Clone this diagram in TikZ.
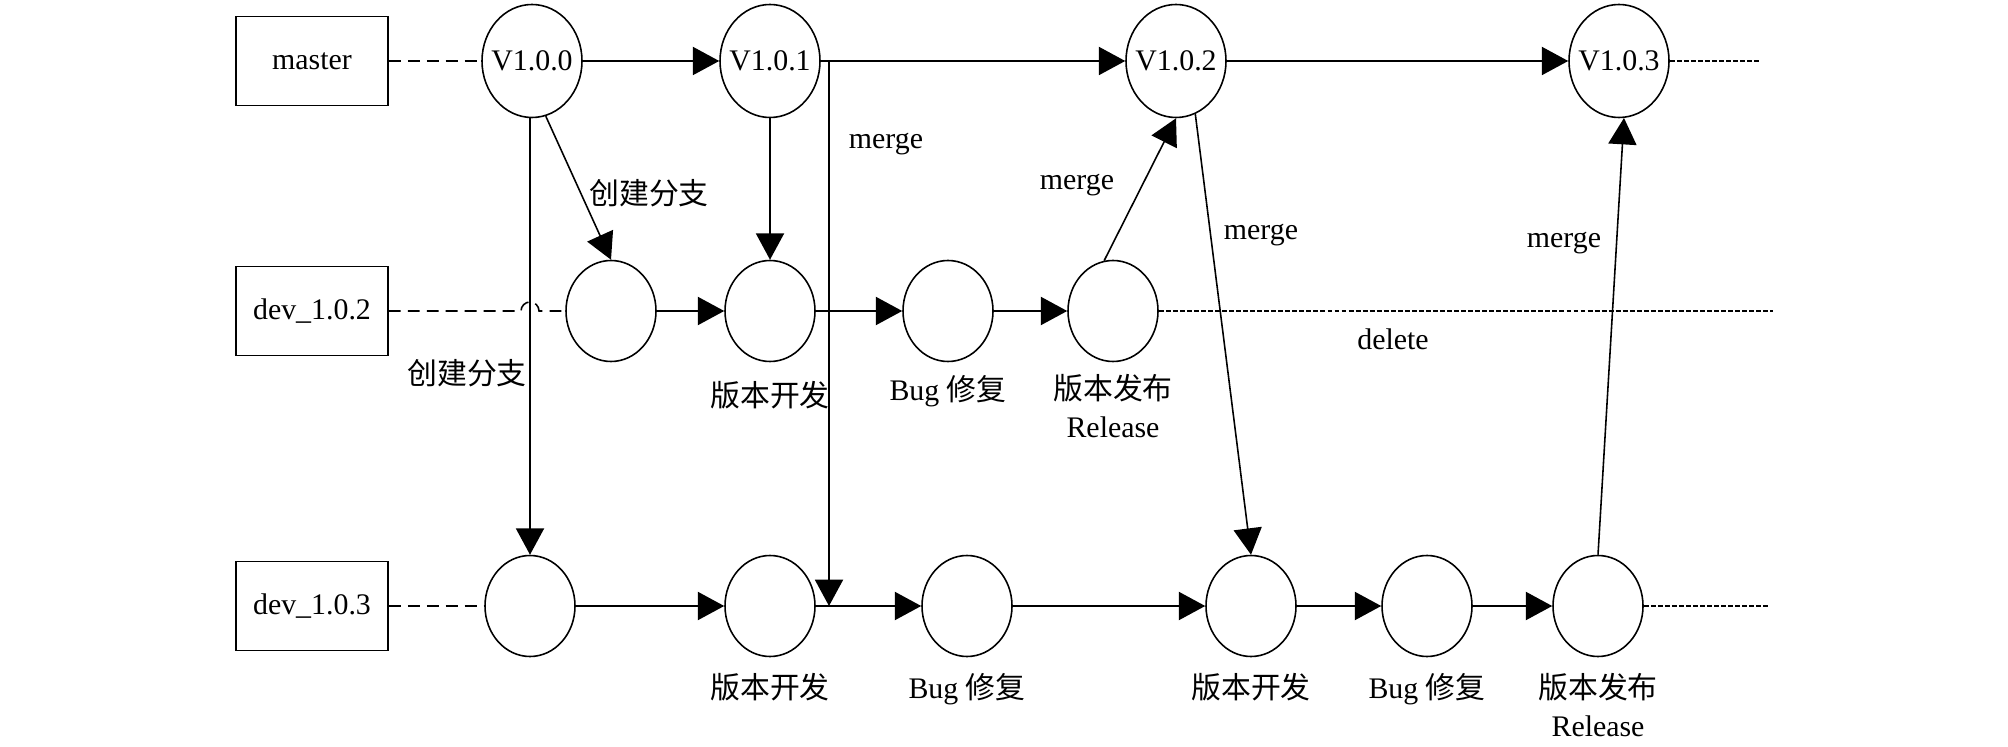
\documentclass[tikz,border=0pt]{standalone}
\usepackage{fontspec}
\setmainfont{Liberation Serif}
\newfontfamily\cjk{Noto Sans CJK SC}
\usetikzlibrary{shapes.geometric,arrows.meta,positioning}
\begin{document}
\begin{tikzpicture}
[every node/.style={font=\fontsize{17pt}{21.5pt}\selectfont},
 branch/.style={rectangle,draw,line width=0.9pt,minimum width=3.04cm,minimum height=1.78cm},
 ver/.style={ellipse,draw,line width=0.9pt,inner xsep=-0.3cm,minimum width=2.0cm,minimum height=2.26cm},
 stage/.style={ellipse,draw,line width=0.9pt,minimum width=1.8cm,minimum height=2.02cm},
 lbl/.style={align=center,inner sep=1pt},
 flow/.style={line width=0.9pt,-{Triangle[length=15pt,width=16pt]}},
 link/.style={line width=0.9pt,dash pattern=on 6.8pt off 4pt},
 tailline/.style={line width=0.6pt,dash pattern=on 2.8pt off 1.2pt}]
\useasboundingbox (0,0) rectangle (40.16,14.92);
\node [branch] (master) at (6.24,13.70) {master};
\node [branch] (dev2) at (6.24,8.70) {dev\_1.0.2};
\node [branch] (dev3) at (6.24,2.80) {dev\_1.0.3};
\node [ver] (v100) at (10.64,13.70) {V1.0.0};
\node [ver] (v101) at (15.40,13.70) {V1.0.1};
\node [ver] (v102) at (23.52,13.70) {V1.0.2};
\node [ver] (v103) at (32.38,13.70) {V1.0.3};
\node [stage] (a1) at (12.22,8.70) {};
\node [stage] (a2) at (15.40,8.70) {};
\node [stage] (a3) at (18.96,8.70) {};
\node [stage] (a4) at (22.26,8.70) {};
\node [stage] (b1) at (10.60,2.80) {};
\node [stage] (b2) at (15.40,2.80) {};
\node [stage] (b3) at (19.34,2.80) {};
\node [stage] (b4) at (25.02,2.80) {};
\node [stage] (b5) at (28.54,2.80) {};
\node [stage] (b6) at (31.96,2.80) {};
\coordinate (fork) at (16.58,13.70);
\coordinate (endm) at (35.20,13.70);
\coordinate (endd) at (35.46,8.70);
\coordinate (endb) at (35.36,2.80);

\draw [link] (master) -- (v100);
\draw [flow] (v100) -- (v101);
\draw [flow] (v101) -- (v102);
\draw [flow] (v102) -- (v103);
\draw [tailline] (v103.east) -- (endm);
\draw [flow] (v100.-76) -- (a1.north);
\draw [flow] (v101) -- (a2);
\draw [flow] (b1 |- v100.south) -- (b1);
\draw [flow] (fork) -- (fork |- b2);
\draw [link] (dev2.east) -- ([xshift=-0.18cm]b1 |- dev2)
  arc [start angle=180,end angle=0,radius=0.18cm] -- (a1.west);
\draw [flow] (a1) -- (a2);
\draw [flow] (a2) -- (a3);
\draw [flow] (a3) -- (a4);
\draw [tailline] (a4.east) -- (endd);
\draw [flow] (a4.100) -- (v102.south);
\draw [flow] (v102.-70) -- (b4.north);
\draw [flow] (b6.north) -- (v103.-85);
\draw [link] (dev3) -- (b1);
\draw [flow] (b1) -- (b2);
\draw [flow] (b2) -- (b3);
\draw [flow] (b3) -- (b4);
\draw [flow] (b4) -- (b5);
\draw [flow] (b5) -- (b6);
\draw [tailline] (b6.east) -- (endb);

\node [lbl] (branch1) at (12.98,11.06) {\cjk 创建分支};
\node [lbl] (branch2) at (9.34,7.46) {\cjk 创建分支};
\node [lbl] (merge1) at (17.72,12.04) {merge};
\node [lbl] (merge2) at (21.54,11.22) {merge};
\node [lbl] (merge3) at (25.22,10.22) {merge};
\node [lbl] (merge4) at (31.28,10.05) {merge};
\node [lbl] (delete) at (27.86,8.14) {delete};
\node [lbl,below=0.34cm of a2] (devlbl1) {\cjk 版本开发};
\node [lbl,below=0.22cm of a3] (fixlbl1) {Bug {\cjk 修复}};
\node [lbl,below=0.2cm of a4] (rellbl1) {{\cjk 版本发布}\\Release};
\node [lbl,below=0.28cm of b2] (devlbl2) {\cjk 版本开发};
\node [lbl,below=0.28cm of b3] (fixlbl2) {Bug {\cjk 修复}};
\node [lbl,below=0.28cm of b4] (devlbl3) {\cjk 版本开发};
\node [lbl,below=0.28cm of b5] (fixlbl3) {Bug {\cjk 修复}};
\node [lbl,below=0.28cm of b6] (rellbl2) {{\cjk 版本发布}\\Release};
\end{tikzpicture}
\end{document}
